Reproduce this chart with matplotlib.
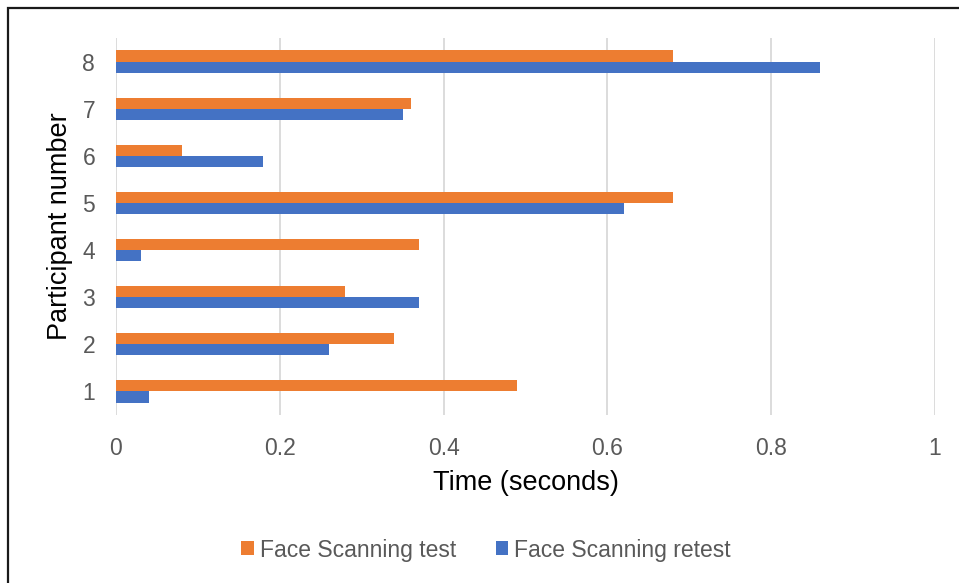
import numpy as np
import matplotlib
matplotlib.use("Agg")
import matplotlib.pyplot as plt
from matplotlib.patches import Rectangle

plt.rcParams["font.family"] = ["Liberation Sans", "DejaVu Sans"]

participants = [1, 2, 3, 4, 5, 6, 7, 8]
test_times = [0.49, 0.34, 0.28, 0.37, 0.68, 0.08, 0.36, 0.68]
retest_times = [0.04, 0.26, 0.37, 0.03, 0.62, 0.18, 0.35, 0.86]
x_ticks = [0, 0.2, 0.4, 0.6, 0.8, 1]
x_tick_labels = ["0", "0.2", "0.4", "0.6", "0.8", "1"]

orange = "#ED7D31"
blue = "#4472C4"
text_col = "#595959"
fs = 16.5
label_fs = 19.5


def main():
    fig = plt.figure(figsize=(9.59, 5.83), dpi=100)
    ax = fig.add_axes([116 / 959, 1 - 415 / 583, (935 - 116) / 959, (415 - 38) / 583])

    y = np.array(participants, dtype=float)
    h = 0.235
    ax.barh(y + h / 2, test_times, height=h, color=orange, label="Face Scanning test", zorder=3)
    ax.barh(y - h / 2, retest_times, height=h, color=blue, label="Face Scanning retest", zorder=3)

    ax.set_xlim(0, 1)
    ax.set_ylim(0.5, 8.5)
    ax.set_xticks(x_ticks)
    ax.set_xticklabels(x_tick_labels)
    ax.set_yticks(participants)
    ax.set_yticklabels([str(p) for p in participants])
    ax.tick_params(axis="both", length=0, labelsize=fs, labelcolor=text_col)
    ax.tick_params(axis="x", pad=16)
    ax.tick_params(axis="y", pad=15)

    ax.grid(axis="x", color="#D9D9D9", linewidth=1.3, zorder=0)
    for s in ax.spines.values():
        s.set_visible(False)

    ax.set_xlabel("Time (seconds)", fontsize=label_fs, color="black", labelpad=7)
    ax.set_ylabel("Participant number", fontsize=label_fs, color="black", labelpad=7)

    fig.legend(loc="center", bbox_to_anchor=(486 / 959, 1 - 550 / 583), ncol=2, frameon=False,
               fontsize=fs, handlelength=0.55, handleheight=0.55, handletextpad=0.25,
               columnspacing=1.75, labelcolor=text_col)

    # outer chart border
    fig.patches.append(Rectangle((8 / 959, -0.01), 1.02, 1 - 8 / 583 + 0.01, transform=fig.transFigure,
                                 fill=False, edgecolor="#1a1a1a", linewidth=1.6))

    fig.savefig("out.png", dpi=100)
    plt.close(fig)


if __name__ == "__main__":
    main()
